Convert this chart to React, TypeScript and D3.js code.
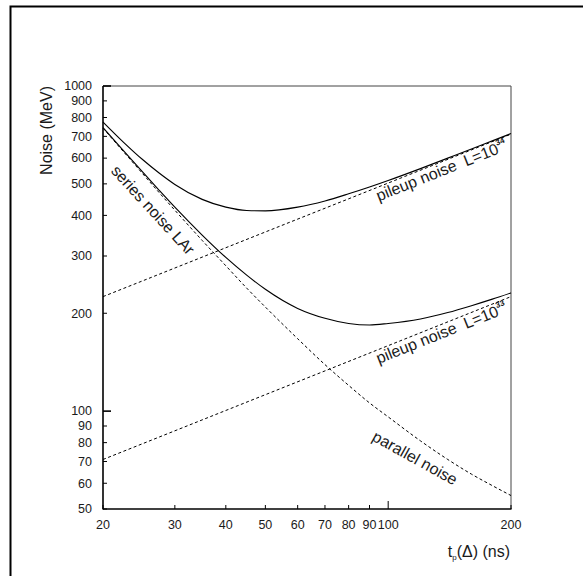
import React from "react";
import * as d3 from "d3";

// Peaking times (ns) at which the noise curves are sampled
const peakingTimes = [20, 22.5, 25, 27.5, 30, 35, 40, 45, 50, 60, 70, 80, 90, 100, 120, 140, 160, 180, 200];

// Series noise (LAr) merging into parallel noise, dashed (MeV)
const seriesParallelNoise = [742, 626, 538, 469, 415, 335, 280, 239, 209, 167, 139, 120, 106, 96, 81, 71, 64, 59, 55];

// Total noise at L = 10^34 (MeV)
const totalNoiseL34 = [775, 670, 594, 539, 498, 448, 424, 414, 413, 424, 443, 466, 489, 512, 557, 600, 640, 678, 714];

// Total noise at L = 10^33 (MeV)
const totalNoiseL33 = [745, 630, 544, 477, 424, 348, 297, 262, 237, 207, 193, 186, 184, 186, 192, 201, 211, 221, 231];

// Pileup noise: power laws, straight on log-log axes
const pileupTimes = [20, 200];
const pileupNoiseL34 = [225, 711];
const pileupNoiseL33 = [71, 225];

// Axis ticks
const xTicks = [20, 30, 40, 50, 60, 70, 80, 90, 100, 200];
const yTicks = [50, 60, 70, 80, 90, 100, 200, 300, 400, 500, 600, 700, 800, 900, 1000];
const xMajor = [100];
const yMajor = [100, 1000];

const FONT = "'Liberation Sans', Arial, Helvetica, sans-serif";
const INK = "#1a1a1a";

export default function App() {
  const x = d3.scaleLog().domain([20, 200]).range([103, 511]);
  const y = d3.scaleLog().domain([50, 1000]).range([509, 86]);
  const [x0, x1] = x.range();
  const [y0, y1] = y.range();

  const curve = (ts: number[], vals: number[]) =>
    d3
      .line<number>()
      .x((_, i) => x(ts[i]))
      .y((d) => y(d))
      .curve(d3.curveMonotoneX)(vals) || "";

  // Places a label along a straight pileup line, its end near the right axis
  const pileupLabel = (vals: number[], sup: string) => {
    const xa = x(pileupTimes[0]);
    const xb = x(pileupTimes[1]);
    const ya = y(vals[0]);
    const yb = y(vals[1]);
    const ang = (Math.atan2(yb - ya, xb - xa) * 180) / Math.PI;
    const px = 503;
    const py = ya + ((yb - ya) * (px - xa)) / (xb - xa);
    return (
      <g transform={`translate(${px},${py}) rotate(${ang})`}>
        <text x={0} y={13.5} textAnchor="end" fontSize={16} style={{ whiteSpace: "pre" }}>
          {"pileup noise  L=10"}
          <tspan dy={-8} fontSize={8} fontWeight="bold">
            {sup}
          </tspan>
        </text>
      </g>
    );
  };

  return (
    <svg
      width={583}
      height={576}
      style={{ position: "absolute", left: 0, top: 0, background: "#fff" }}
      fontFamily={FONT}
      fill={INK}
    >
      {/* outer frame */}
      <rect x={10.5} y={6.5} width={600} height={600} fill="none" stroke="#000" strokeWidth={2} />

      {/* plot box: thin top/right, heavier axes */}
      <line x1={x0} x2={x1} y1={y1} y2={y1} stroke="#444" strokeWidth={1} />
      <line x1={x1} x2={x1} y1={y1} y2={y0} stroke="#444" strokeWidth={1} />
      <line x1={x0} x2={x1 + 0.5} y1={y0} y2={y0} stroke="#000" strokeWidth={1.6} />
      <line x1={x0} x2={x0} y1={y0 + 0.5} y2={y1} stroke="#000" strokeWidth={1.6} />

      {/* x ticks */}
      {xTicks.map((t) => (
        <g key={`xt${t}`}>
          <line
            x1={x(t)}
            x2={x(t)}
            y1={y0}
            y2={y0 - (xMajor.includes(t) ? 8 : 4)}
            stroke="#000"
            strokeWidth={1}
          />
          <text x={x(t)} y={y0 + 19.5} textAnchor="middle" fontSize={12.5}>
            {t}
          </text>
        </g>
      ))}

      {/* y ticks */}
      {yTicks.map((v) => (
        <g key={`yt${v}`}>
          <line
            x1={x0}
            x2={x0 + (yMajor.includes(v) ? 8 : 4)}
            y1={y(v)}
            y2={y(v)}
            stroke="#000"
            strokeWidth={yMajor.includes(v) ? 1.6 : 1}
          />
          <text x={x0 - 11} y={y(v) + 4.3} textAnchor="end" fontSize={12.5}>
            {v}
          </text>
        </g>
      ))}

      {/* axis titles */}
      <text x={510} y={557} textAnchor="end" fontSize={16}>
        t
        <tspan fontSize={8} dy={3}>
          p
        </tspan>
        <tspan dy={-3}>(Δ) (ns)</tspan>
      </text>
      <text transform="translate(52,86) rotate(-90)" textAnchor="end" fontSize={16}>
        Noise (MeV)
      </text>

      {/* noise curves */}
      <g fill="none" stroke="#000">
        <path d={curve(pileupTimes, pileupNoiseL34)} strokeWidth={1} strokeDasharray="3,2.5" />
        <path d={curve(pileupTimes, pileupNoiseL33)} strokeWidth={1} strokeDasharray="3,2.5" />
        <path d={curve(peakingTimes, seriesParallelNoise)} strokeWidth={1} strokeDasharray="3,2.5" />
        <path d={curve(peakingTimes, totalNoiseL34)} strokeWidth={1.15} />
        <path d={curve(peakingTimes, totalNoiseL33)} strokeWidth={1.15} />
      </g>

      {/* curve labels */}
      <text
        transform="translate(153,210) rotate(47.5)"
        textAnchor="middle"
        dominantBaseline="central"
        fontSize={16}
      >
        series noise LAr
      </text>
      <text
        transform="translate(415,458) rotate(29)"
        textAnchor="middle"
        dominantBaseline="central"
        fontSize={16}
      >
        parallel noise
      </text>
      {pileupLabel(pileupNoiseL34, "34")}
      {pileupLabel(pileupNoiseL33, "33")}
    </svg>
  );
}
